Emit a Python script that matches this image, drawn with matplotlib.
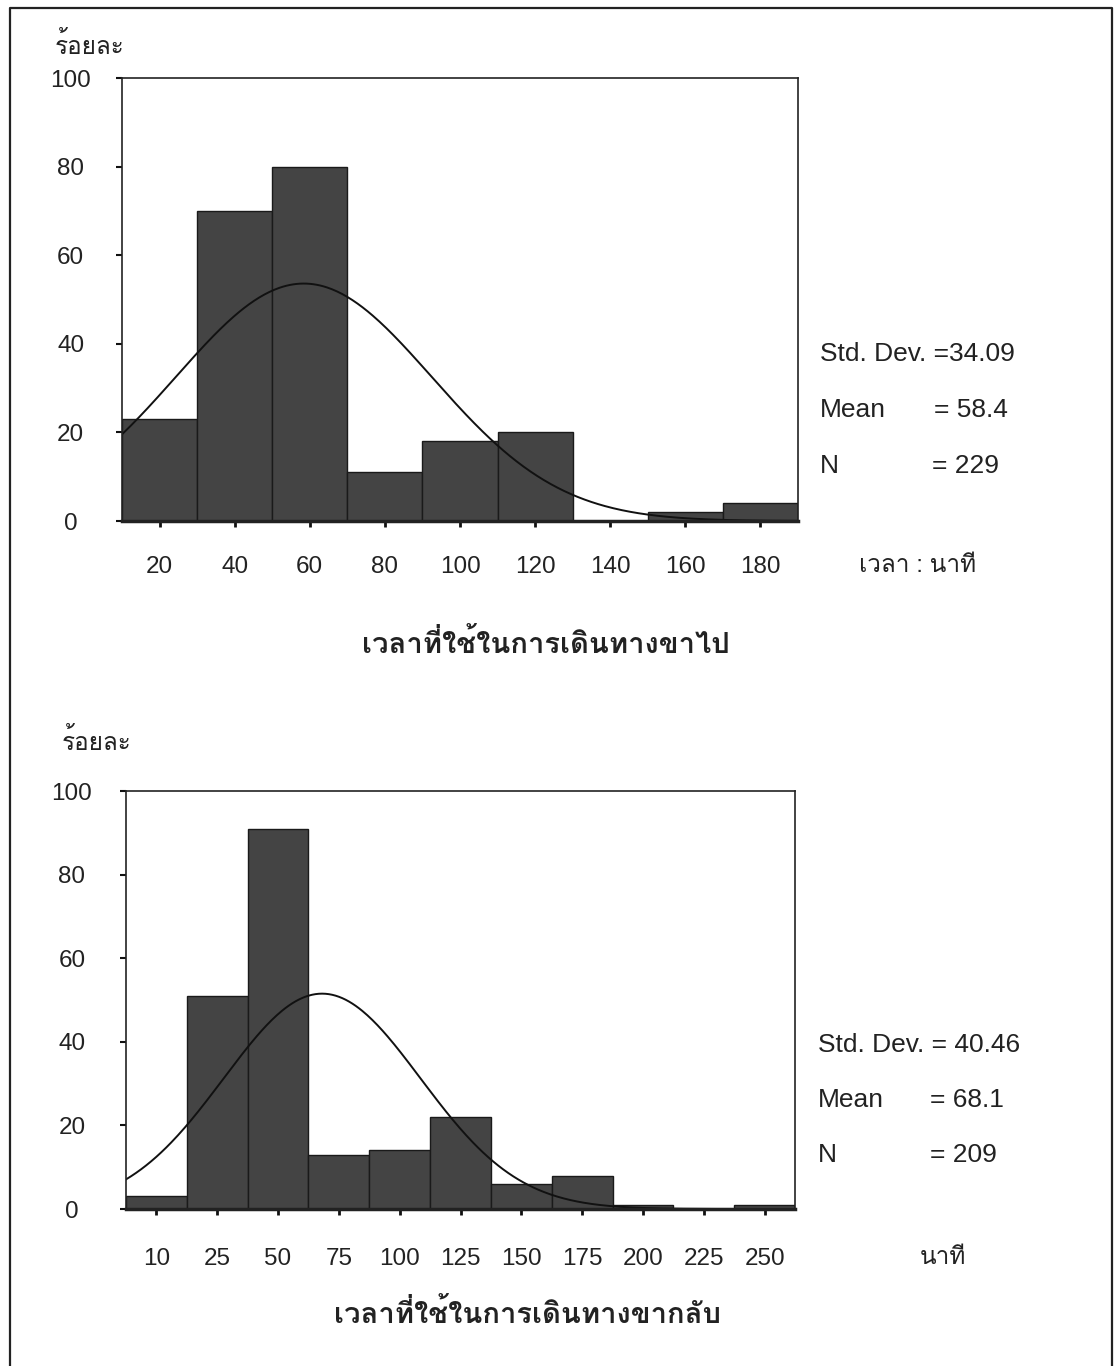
import numpy as np
import matplotlib
matplotlib.use('Agg')
from matplotlib import pyplot as plt
from matplotlib.lines import Line2D

# Latin text in an Arial-like face, Thai falls back to Loma (stacks tone marks)
plt.rcParams['font.family'] = ['Liberation Sans', 'Loma']

# travel time going (minutes), bin centers and counts
go_centers = [20, 40, 60, 80, 100, 120, 140, 160, 180]
go_counts = [23, 70, 80, 11, 18, 20, 0, 2, 4]
go_width = 20
go_sd, go_mean, go_n = 34.09, 58.4, 229

# travel time returning (minutes)
back_centers = [0, 25, 50, 75, 100, 125, 150, 175, 200, 225, 250]
back_counts = [3, 51, 91, 13, 14, 22, 6, 8, 1, 0, 1]
back_labels = ['10', '25', '50', '75', '100', '125', '150', '175', '200', '225', '250']
back_width = 25
back_sd, back_mean, back_n = 40.46, 68.1, 209

y_ticks = [0, 20, 40, 60, 80, 100]

W, H = 1116, 1366
fig = plt.figure(figsize=(W / 100, H / 100), dpi=100)


def px(x0, y0, x1, y1):
    # pixel box -> figure fraction [left, bottom, width, height]
    return [x0 / W, 1 - y1 / H, (x1 - x0) / W, (y1 - y0) / H]


def hist(ax, centers, counts, width, mean, sd, n, labels, ypad, xpad):
    ax.bar(centers, counts, width=width, color='#444444',
           edgecolor='#1a1a1a', linewidth=1.0)
    lo = centers[0] - width / 2
    hi = centers[-1] + width / 2
    # fitted normal curve scaled to counts per bin
    xs = np.linspace(lo, hi, 400)
    ys = n * width * np.exp(-0.5 * ((xs - mean) / sd) ** 2) / (sd * np.sqrt(2 * np.pi))
    ax.plot(xs, ys, color='#111111', lw=1.4)
    ax.set_xlim(lo, hi)
    ax.set_ylim(0, 100)
    ax.set_xticks(centers)
    ax.set_xticklabels(labels)
    ax.set_yticks(y_ticks)
    ax.tick_params(axis='y', direction='out', length=4, width=1.5,
                   pad=ypad, labelsize=17.5, color='#111111',
                   labelcolor='#222222')
    ax.tick_params(axis='x', direction='out', length=4, width=2,
                   pad=xpad, labelsize=17.5, color='#111111',
                   labelcolor='#222222')
    for t in ax.get_yticklabels():
        t.set_horizontalalignment('center')
    for s in ax.spines.values():
        s.set_linewidth(1.2)
        s.set_color('#222222')
    ax.spines['bottom'].set_linewidth(2.5)


ax1 = fig.add_axes(px(122, 78, 798, 521))
hist(ax1, go_centers, go_counts, go_width, go_mean, go_sd, go_n,
     [str(c) for c in go_centers], 33, 21)

ax2 = fig.add_axes(px(126, 791, 795, 1209))
hist(ax2, back_centers, back_counts, back_width, back_mean, back_sd, back_n,
     back_labels, 35, 24)


def ftext(x, y, s, **kw):
    fig.text(x / W, 1 - y / H, s, va='center', color='#222222', **kw)


# top panel texts
ftext(55, 45, 'ร้อยละ', fontsize=17.5)
ftext(820, 354, 'Std. Dev. =34.09', fontsize=19)
ftext(820, 410, 'Mean', fontsize=19)
ftext(934, 410, '= 58.4', fontsize=19)
ftext(820, 466, 'N', fontsize=19)
ftext(932, 466, '= 229', fontsize=19)
ftext(918, 566, 'เวลา : นาที', fontsize=17.5, ha='center')
ftext(546, 644, 'เวลาที่ใช้ในการเดินทางขาไป', fontsize=21, ha='center',
      fontweight='bold')

# bottom panel texts
ftext(62, 741, 'ร้อยละ', fontsize=17.5)
ftext(818, 1045, 'Std. Dev. = 40.46', fontsize=19)
ftext(818, 1100, 'Mean', fontsize=19)
ftext(930, 1100, '= 68.1', fontsize=19)
ftext(818, 1155, 'N', fontsize=19)
ftext(930, 1155, '= 209', fontsize=19)
ftext(943, 1258, 'นาที', fontsize=17.5, ha='center')
ftext(528, 1314, 'เวลาที่ใช้ในการเดินทางขากลับ', fontsize=21, ha='center',
      fontweight='bold')

# page frame (open at the bottom)
frame_x = [10 / W, 10 / W, 1112 / W, 1112 / W]
frame_y = [0, 1 - 8 / H, 1 - 8 / H, 0]
fig.add_artist(Line2D(frame_x, frame_y, transform=fig.transFigure,
                      color='#222222', lw=1.6))

fig.savefig('out.png', dpi=100)
